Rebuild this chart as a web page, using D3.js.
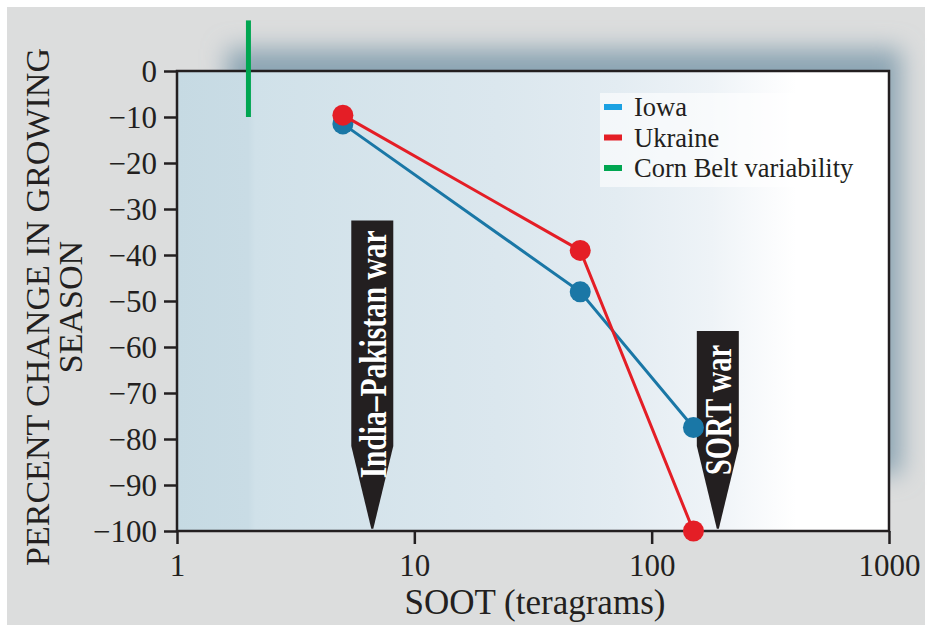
<!DOCTYPE html>
<html>
<head>
<meta charset="utf-8">
<script src="https://cdn.jsdelivr.net/npm/d3@7"></script>
<style>
  body { margin: 0; background: #fff; }
  svg { display: block; }
</style>
</head>
<body>
<svg id="chart"></svg>
<script>
var WIDTH = 927;
var HEIGHT = 630;

// soot amounts (teragrams) for each scenario
var soot = [5, 50, 150];
var iowa = [-11.5, -48, -77.5];
var ukraine = [-9.6, -39, -100];
var xTicks = [1, 10, 100, 1000];
var yTicks = [0, -10, -20, -30, -40, -50, -60, -70, -80, -90, -100];
var cornBelt = { x: 2, top: 11, bottom: -10 };
var wars = [
    { name: "India\u2013Pakistan war", x: 6.65, top: -32.5 },
    { name: "SORT war", x: 190, top: -56.5 }
];
var legendItems = [
    { name: "Iowa", color: "#1ba1e2" },
    { name: "Ukraine", color: "#e41e26" },
    { name: "Corn Belt variability", color: "#00a651" }
];

var margin = { left: 177, top: 71, right: 38, bottom: 99 };
var serif = "'Liberation Serif', 'Times New Roman', serif";

function main() {
    var svg = d3.select("#chart")
        .attr("width", WIDTH)
        .attr("height", HEIGHT);

    var w = WIDTH - margin.left - margin.right;
    var h = HEIGHT - margin.top - margin.bottom;

    var defs = svg.append("defs");
    defs.append("filter")
        .attr("id", "blur")
        .attr("filterUnits", "userSpaceOnUse")
        .attr("x", -200).attr("y", -100)
        .attr("width", 1200).attr("height", 800)
        .append("feGaussianBlur")
        .attr("stdDeviation", 12);

    var grad = defs.append("linearGradient")
        .attr("id", "bg")
        .attr("x1", "0%").attr("x2", "100%")
        .attr("y1", "0%").attr("y2", "0%");
    [[0, "#c6dae3"], [0.1, "#c9dce5"], [0.11, "#d0e1e9"], [0.45, "#dbe7ee"],
     [0.62, "#e3ecf2"], [0.75, "#eef3f7"], [0.84, "#fbfcfd"], [0.87, "#ffffff"], [1, "#ffffff"]]
        .forEach(function(s) {
            grad.append("stop").attr("offset", s[0]).attr("stop-color", s[1]);
        });

    // grey page
    svg.append("rect")
        .attr("x", 7).attr("y", 7)
        .attr("width", WIDTH - 9).attr("height", HEIGHT - 12)
        .attr("fill", "#dcdddd");

    var g = svg.append("g")
        .attr("transform", "translate(" + margin.left + "," + margin.top + ")");

    // shadow behind the plot
    g.append("rect")
        .attr("x", 50).attr("y", -22)
        .attr("width", w - 38).attr("height", h - 35)
        .attr("fill", "#8ba4b3")
        .attr("filter", "url(#blur)");

    g.append("rect")
        .attr("width", w).attr("height", h)
        .attr("fill", "url(#bg)");

    var x = d3.scaleLog().domain([1, 1000]).range([0, w]);
    var y = d3.scaleLinear().domain([-100, 0]).range([h, 0]);

    // legend backdrop
    g.append("rect")
        .attr("x", 423).attr("y", 22)
        .attr("width", 248).attr("height", 94)
        .attr("fill", "#ffffff")
        .attr("opacity", 0.6);

    // war arrows
    var aw = 42;
    var taperTop = -81.5;
    wars.forEach(function(d) {
        var cx = x(d.x);
        var pts = [
            [cx - aw / 2, y(d.top)],
            [cx + aw / 2, y(d.top)],
            [cx + aw / 2, y(taperTop)],
            [cx + 1, y(-99.5)],
            [cx - 1, y(-99.5)],
            [cx - aw / 2, y(taperTop)]
        ];
        g.append("path")
            .attr("d", d3.line()(pts) + "Z")
            .attr("fill", "#231f20");
    });

    g.append("text")
        .attr("transform", "translate(" + (x(wars[0].x) + 1) + "," + y(-61.6) + ") rotate(-90)")
        .attr("text-anchor", "middle")
        .attr("dominant-baseline", "central")
        .attr("font-family", serif)
        .attr("font-weight", "bold")
        .attr("font-size", 37)
        .attr("textLength", 248)
        .attr("lengthAdjust", "spacingAndGlyphs")
        .attr("fill", "#fff")
        .text(wars[0].name);

    g.append("text")
        .attr("transform", "translate(" + (x(wars[1].x) + 1) + "," + y(-73.7) + ") rotate(-90)")
        .attr("text-anchor", "middle")
        .attr("dominant-baseline", "central")
        .attr("font-family", serif)
        .attr("font-weight", "bold")
        .attr("font-size", 37)
        .attr("textLength", 130)
        .attr("lengthAdjust", "spacingAndGlyphs")
        .attr("fill", "#fff")
        .text(wars[1].name);

    // axes
    var xAxis = d3.axisBottom(x)
        .tickValues(xTicks)
        .tickFormat(d3.format("d"))
        .tickSize(13)
        .tickPadding(10);
    var yAxis = d3.axisLeft(y)
        .tickValues(yTicks)
        .tickFormat(function(d) { return d === 0 ? "0" : "\u2212" + (-d); })
        .tickSize(13)
        .tickPadding(7);

    var gx = g.append("g")
        .attr("transform", "translate(0," + h + ")")
        .call(xAxis);
    var gy = g.append("g").call(yAxis);

    [gx, gy].forEach(function(a) {
        a.select(".domain").remove();
        a.selectAll("line").attr("stroke", "#231f20").attr("stroke-width", 2.5);
        a.selectAll("text")
            .attr("font-family", serif)
            .attr("font-size", 31)
            .attr("fill", "#231f20");
    });
    gy.selectAll("text").attr("dy", "0.34em");
    gx.selectAll("text").attr("dy", "0.72em");

    g.append("rect")
        .attr("width", w).attr("height", h)
        .attr("fill", "none")
        .attr("stroke", "#231f20")
        .attr("stroke-width", 2.5);

    // corn belt variability
    g.append("line")
        .attr("x1", x(cornBelt.x)).attr("x2", x(cornBelt.x))
        .attr("y1", y(cornBelt.top)).attr("y2", y(cornBelt.bottom))
        .attr("stroke", "#00a651")
        .attr("stroke-width", 5);

    // series
    var series = [
        { values: iowa, color: "#1a77a6" },
        { values: ukraine, color: "#e41e26" }
    ];
    var line = d3.line()
        .x(function(d, i) { return x(soot[i]); })
        .y(function(d) { return y(d); });

    series.forEach(function(s) {
        g.append("path")
            .attr("d", line(s.values))
            .attr("fill", "none")
            .attr("stroke", s.color)
            .attr("stroke-width", 3);
        g.selectAll(null)
            .data(s.values)
            .enter()
            .append("circle")
            .attr("cx", function(d, i) { return x(soot[i]); })
            .attr("cy", function(d) { return y(d); })
            .attr("r", 10.5)
            .attr("fill", s.color);
    });

    // legend
    var lg = g.append("g").attr("transform", "translate(427,36)");
    legendItems.forEach(function(d, i) {
        lg.append("rect")
            .attr("x", 0).attr("y", i * 30.5 - 3)
            .attr("width", 18).attr("height", 6)
            .attr("fill", d.color);
        lg.append("text")
            .attr("x", 30).attr("y", i * 30.5)
            .attr("dy", "0.35em")
            .attr("font-family", serif)
            .attr("font-size", 26.5)
            .attr("fill", "#231f20")
            .text(d.name);
    });

    // axis titles
    svg.append("text")
        .attr("x", 535)
        .attr("y", 614)
        .attr("text-anchor", "middle")
        .attr("font-family", serif)
        .attr("font-size", 35)
        .attr("fill", "#231f20")
        .text("SOOT (teragrams)");

    var yt = svg.append("text")
        .attr("transform", "translate(0,307) rotate(-90)")
        .attr("text-anchor", "middle")
        .attr("font-family", serif)
        .attr("font-size", 34)
        .attr("fill", "#231f20");
    yt.append("tspan").attr("x", 0).attr("y", 49).text("PERCENT CHANGE IN GROWING");
    yt.append("tspan").attr("x", 0).attr("y", 82).text("SEASON");
}

main();
</script>
</body>
</html>
